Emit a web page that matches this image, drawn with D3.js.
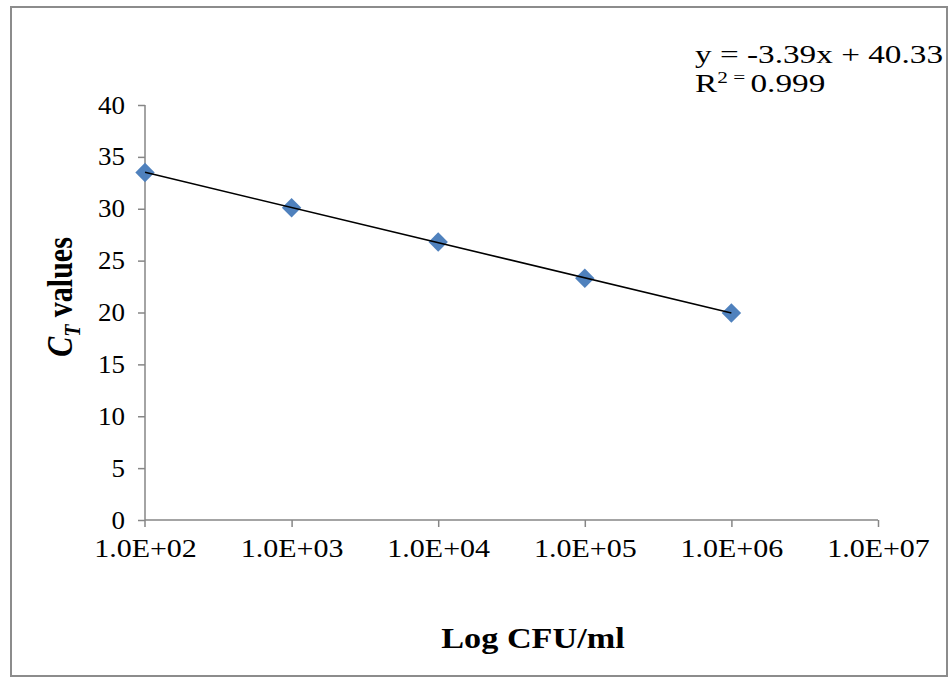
<!DOCTYPE html>
<html>
<head>
<meta charset="utf-8">
<script src="https://cdnjs.cloudflare.com/ajax/libs/d3/7.8.5/d3.min.js"></script>
<style>
  body { margin: 0; background: #fff; }
  svg text { font-family: "Liberation Serif", "Times New Roman", serif; fill: #000; }
</style>
</head>
<body>
<div id="chart"></div>
<script>
// standard curve data (CFU/ml vs CT)
var cfu = [1e2, 1e3, 1e4, 1e5, 1e6];
var ctValues = [33.5, 30.1, 26.8, 23.3, 19.95];
var xTicks = [1e2, 1e3, 1e4, 1e5, 1e6, 1e7];
var yTicks = [0, 5, 10, 15, 20, 25, 30, 35, 40];
var eqLines = ["y = -3.39x + 40.33", "0.999"];

var width = 950, height = 677;
var svg = d3.select("#chart").append("svg")
	.attr("width", width)
	.attr("height", height);

// outer frame
svg.append("rect")
	.attr("x", 11).attr("y", 7)
	.attr("width", 936).attr("height", 669)
	.attr("fill", "none")
	.attr("stroke", "#8c8c8c")
	.attr("stroke-width", 2);

var x = d3.scaleLog().domain([1e2, 1e7]).range([145, 878]);
var y = d3.scaleLinear().domain([0, 40]).range([520, 105]);

var fmt = function(v) {
	var e = Math.round(Math.log10(v));
	return "1.0E+" + (e < 10 ? "0" + e : e);
};

// y axis
var yAxis = d3.axisLeft(y).tickValues(yTicks).tickSize(7).tickPadding(0).tickFormat(function(d) { return d; });
var gy = svg.append("g").attr("transform", "translate(145,0)").call(yAxis);
gy.select(".domain").attr("stroke", "#868686").attr("stroke-width", 1.5).attr("d", "M0,105V527");
gy.selectAll(".tick line").attr("stroke", "#868686").attr("stroke-width", 1.5);
gy.selectAll(".tick text")
	.attr("x", 0).attr("dy", null).attr("y", 0)
	.attr("text-anchor", "end")
	.attr("font-size", 25)
	.attr("transform", "translate(-20,8) scale(1.08,1)");

// x axis
var xAxis = d3.axisBottom(x).tickValues(xTicks).tickSize(7).tickFormat(fmt);
var gx = svg.append("g").attr("transform", "translate(0,520)").call(xAxis);
gx.select(".domain").attr("stroke", "#868686").attr("stroke-width", 1.5).attr("d", "M145,0H878");
gx.selectAll(".tick line").attr("stroke", "#868686").attr("stroke-width", 1.5);
gx.selectAll(".tick line").filter(function(d) { return d === 1e2; }).remove();
gx.selectAll(".tick text")
	.attr("y", 0).attr("dy", null)
	.attr("font-size", 25)
	.attr("transform", "translate(0,37) scale(1.2,1)");

// linear fit on log10(x)
var lx = cfu.map(function(d) { return Math.log10(d); });
var mx = d3.mean(lx), my = d3.mean(ctValues);
var slope = d3.sum(lx, function(d, i) { return (d - mx) * (ctValues[i] - my); }) / d3.sum(lx, function(d) { return (d - mx) * (d - mx); });
var icpt = my - slope * mx;
var fitFn = function(v) { return icpt + slope * Math.log10(v); };

// diamond markers
svg.selectAll(".pt")
	.data(cfu)
	.enter().append("path")
	.attr("class", "pt")
	.attr("d", d3.symbol().type(d3.symbolDiamond2).size(240))
	.attr("transform", function(d, i) { return "translate(" + x(d) + "," + y(ctValues[i]) + ")"; })
	.attr("fill", "#4f81bd");

svg.append("line")
	.attr("x1", x(cfu[0])).attr("y1", y(fitFn(cfu[0])))
	.attr("x2", x(cfu[cfu.length - 1])).attr("y2", y(fitFn(cfu[cfu.length - 1])))
	.attr("stroke", "#000")
	.attr("stroke-width", 1.6);

// equation text
svg.append("text")
	.attr("font-size", 25)
	.attr("transform", "translate(695,63) scale(1.33,1)")
	.text(eqLines[0]);
var r2 = svg.append("text")
	.attr("font-size", 25)
	.attr("transform", "translate(695,92) scale(1.33,1)");
r2.append("tspan").text("R");
r2.append("tspan").attr("dy", -9).attr("font-size", 16).text("2");
r2.append("tspan").attr("font-size", 16).text(" = ");
r2.append("tspan").attr("dy", 9).attr("font-size", 25).text(eqLines[1]);

// axis titles
svg.append("text")
	.attr("font-size", 29)
	.attr("font-weight", "bold")
	.attr("text-anchor", "middle")
	.attr("transform", "translate(533,648) scale(1.18,1)")
	.text("Log CFU/ml");

var yl = svg.append("text")
	.attr("font-size", 30)
	.attr("font-weight", "bold")
	.attr("text-anchor", "middle")
	.attr("transform", "translate(72,297) rotate(-90) scale(1,1.2)");
yl.append("tspan").attr("font-style", "italic").text("C");
yl.append("tspan").attr("font-style", "italic").attr("font-size", 20).attr("dy", 7).text("T");
yl.append("tspan").attr("dy", -7).text(" values");
</script>
</body>
</html>
